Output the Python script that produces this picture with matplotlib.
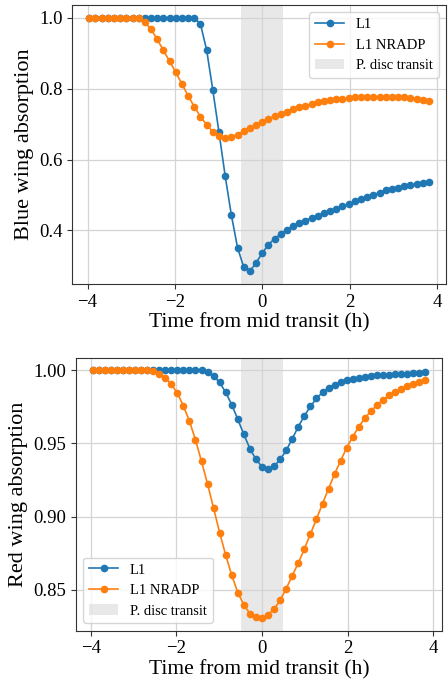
import numpy as np
import matplotlib
matplotlib.use("Agg")
import matplotlib.pyplot as plt

plt.rcParams['font.family'] = ['Liberation Serif', 'DejaVu Serif']
plt.rcParams['mathtext.fontset'] = 'stix'

# time grid (h): 56 samples, step ~0.1414 h, centred on mid transit
time_h = np.arange(-28, 28) * 0.1414

blue_L1 = [1.0] * 18 + [
    0.982, 0.909, 0.796, 0.677, 0.554, 0.444, 0.352, 0.297, 0.285, 0.309, 0.336,
    0.360, 0.377, 0.390, 0.402, 0.413, 0.421, 0.428, 0.436, 0.442, 0.449, 0.455,
    0.462, 0.468, 0.474, 0.482, 0.488, 0.495, 0.501, 0.507, 0.513, 0.517, 0.521,
    0.525, 0.529, 0.531, 0.534, 0.536]

blue_NRADP = [1.0] * 9 + [
    0.987, 0.967, 0.939, 0.908, 0.877, 0.846, 0.813, 0.780, 0.749, 0.721, 0.698,
    0.678, 0.666, 0.660, 0.664, 0.670, 0.680, 0.689, 0.698, 0.706,
    0.715, 0.722, 0.729, 0.735, 0.742, 0.747, 0.752, 0.757, 0.761, 0.764, 0.767,
    0.770, 0.772, 0.774, 0.775, 0.776, 0.777, 0.777, 0.777, 0.777, 0.777, 0.777,
    0.776, 0.774, 0.772, 0.769, 0.765]

red_L1 = [1.0] * 18 + [
    0.9998, 0.9984, 0.9959, 0.9916, 0.9848, 0.9764, 0.9664, 0.9561, 0.9464, 0.9391, 0.9341,
    0.9327, 0.9343, 0.9391, 0.9452, 0.9532, 0.9614, 0.9689, 0.9752, 0.9807, 0.9848,
    0.9880, 0.9900, 0.9918, 0.9930, 0.9941, 0.9948, 0.9952, 0.9959, 0.9964, 0.9966,
    0.9970, 0.9973, 0.9975, 0.9977, 0.9980, 0.9982, 0.9984]

red_NRADP = [1.0] * 10 + [
    0.9993, 0.9977, 0.9948, 0.9905, 0.9843, 0.9757, 0.9652, 0.9525, 0.9377, 0.9223,
    0.9057, 0.8891, 0.8737, 0.8600, 0.8482, 0.8398, 0.8339, 0.8314, 0.8307,
    0.8332, 0.8369, 0.8430, 0.8509, 0.8598, 0.8684, 0.8780, 0.8882, 0.8984, 0.9089,
    0.9191, 0.9293, 0.9382, 0.9471, 0.9546, 0.9614, 0.9671, 0.9721, 0.9761, 0.9798,
    0.9827, 0.9852, 0.9873, 0.9891, 0.9905, 0.9918, 0.9930]

series_labels = ["L1", "L1 NRADP"]
span_label = "P. disc transit"
disc_half = 0.48

fig = plt.figure(figsize=(4.48, 6.81), dpi=100)
ax1 = fig.add_axes([0.1614, 0.583, 0.834, 0.4097])
ax2 = fig.add_axes([0.1696, 0.0739, 0.817, 0.4008])

def style(ax, ylab, yfmt, loc):
    ax.plot(time_h, ylab[1], '-o', color='tab:blue', ms=4.5, lw=1.2, label=series_labels[0], zorder=3)
    ax.plot(time_h, ylab[2], '-o', color='tab:orange', ms=4.5, lw=1.2, label=series_labels[1], zorder=3)
    ax.axvspan(-disc_half, disc_half, color='lightgray', alpha=0.5, lw=0, label=span_label, zorder=1)
    ax.grid(True, color='#d4d4d4', lw=0.9, zorder=0)
    ax.set_axisbelow(True)
    ax.set_xticks([-4, -2, 0, 2, 4])
    ax.set_xlabel("Time from mid transit (h)", fontsize=15.5, labelpad=2)
    ax.set_ylabel(ylab[0], fontsize=16)
    ax.tick_params(labelsize=13.5, color='#333333')
    for s in ax.spines.values():
        s.set_color('#333333')
    ax.yaxis.set_major_formatter(matplotlib.ticker.FormatStrFormatter(yfmt))
    ax.legend(loc=loc, fontsize=10.5, framealpha=0.8)

style(ax1, ("Blue wing absorption", blue_L1, blue_NRADP), '%.1f', 'upper right')
ax1.set_yticks([0.4, 0.6, 0.8, 1.0])
style(ax2, ("Red wing absorption", red_L1, red_NRADP), '%.2f', 'lower left')
ax2.set_yticks([0.85, 0.90, 0.95, 1.00])

fig.savefig("out.png", dpi=100)
